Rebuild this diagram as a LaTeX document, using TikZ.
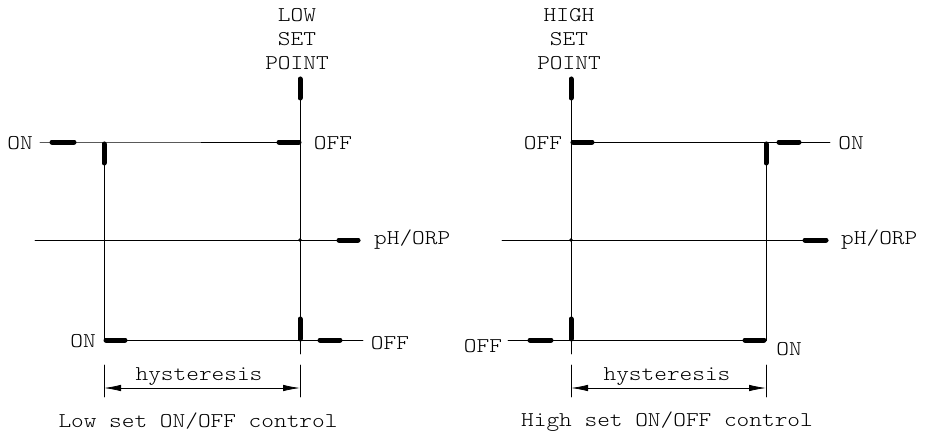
\documentclass[tikz,border=0pt]{standalone}
\usepackage{fontspec}
\newfontfamily\courfont{lmmonolt10-regular.otf}[FakeStretch=1.15]
\usetikzlibrary{arrows.meta}

\begin{document}
\begin{tikzpicture}[line cap=round,line join=round,x=1pt,y=-1pt,
	thin line/.style={line width=0.8pt},
	thick mark/.style={line width=5pt,line cap=round},
	dim line/.style={line width=0.8pt,{Latex[length=17pt,width=6.5pt]}-{Latex[length=17pt,width=6.5pt]}},
	lbl/.style={inner sep=0pt,anchor=base,font=\courfont\fontsize{21}{24}\selectfont}]
	\useasboundingbox (0,0) rectangle (925,431);

	%% Low set point
	\coordinate (lon) at (40,142);
	\coordinate (lhigh) at (104,142);
	\coordinate (llow) at (104,340);
	\coordinate (lsp) at (300,77);
	\coordinate (lspend) at (300,354);
	\coordinate (laxisa) at (35,240);
	\coordinate (laxisb) at (360,240);
	\coordinate (loff) at (363,340);
	\draw [thin line] (lon) -- (lhigh) -- (lsp |- lhigh);
	\draw [thin line] (lhigh) -- (llow) -- (loff);
	\draw [thin line] (lsp) -- (lspend);
	\draw [thin line] (laxisa) -- (laxisb);
	\draw [fill=black] (lsp |- laxisa) circle (1.5pt);
	\draw [thick mark] (52,142) -- (74,142);
	\draw [thick mark] (104,144) -- (104,163);
	\draw [thick mark] (279,142) -- (299,142);
	\draw [thick mark] (300,79) -- (300,98);
	\draw [thick mark] (339,240) -- (358,240);
	\draw [thick mark] (106,340) -- (125,340);
	\draw [thick mark] (300,319) -- (300,339);
	\draw [thick mark] (320,340) -- (340,340);
	% dimension
	\draw [thin line] (104,365) -- (104,397);
	\draw [thin line] (300,365) -- (300,397);
	\draw [dim line] (104,388) -- (300,388);
	% labels
	\node[lbl] (llowtext) at (297,21) {LOW};
	\node[lbl] (lsettext) at (297,45) {SET};
	\node[lbl] (lpointtext) at (297,69) {POINT};
	\node[lbl] (lontop) at (20,149) {ON};
	\node[lbl] (lofftop) at (333,149) {OFF};
	\node[lbl,anchor=base west] (lph) at (374,244) {pH/ORP};
	\node[lbl] (lonbot) at (83,347) {ON};
	\node[lbl] (loffbot) at (390,349) {OFF};
	\node[lbl] (lhys) at (199,380) {hysteresis};
	\node[lbl] (lcap) at (198,427) {Low set ON/OFF control};

	%% High set point
	\coordinate (hsp) at (571,77);
	\coordinate (hspend) at (571,354);
	\coordinate (hhigh) at (766,142);
	\coordinate (hlow) at (766,340);
	\coordinate (hon) at (830,142);
	\coordinate (haxisa) at (502,240);
	\coordinate (haxisb) at (828,240);
	\coordinate (hoff) at (508,340);
	\draw [thin line] (hsp |- hhigh) -- (hon);
	\draw [thin line] (hhigh) -- (hlow) -- (hoff);
	\draw [thin line] (hsp) -- (hspend);
	\draw [thin line] (haxisa) -- (haxisb);
	\draw [fill=black] (hsp |- haxisa) circle (1.5pt);
	\draw [thick mark] (573,142) -- (592,142);
	\draw [thick mark] (766,144) -- (766,163);
	\draw [thick mark] (779,142) -- (799,142);
	\draw [thick mark] (571,79) -- (571,98);
	\draw [thick mark] (805,240) -- (826,240);
	\draw [thick mark] (530,340) -- (551,340);
	\draw [thick mark] (571,319) -- (571,339);
	\draw [thick mark] (745,340) -- (764,340);
	% dimension
	\draw [thin line] (571,365) -- (571,397);
	\draw [thin line] (766,365) -- (766,397);
	\draw [dim line] (571,388) -- (766,388);
	% labels
	\node[lbl] (hhightext) at (569,21) {HIGH};
	\node[lbl] (hsettext) at (569,45) {SET};
	\node[lbl] (hpointtext) at (569,69) {POINT};
	\node[lbl] (hofftop) at (543,149) {OFF};
	\node[lbl] (hontop) at (851,149) {ON};
	\node[lbl,anchor=base west] (hph) at (841,244) {pH/ORP};
	\node[lbl] (hoffbot) at (483,352) {OFF};
	\node[lbl] (honbot) at (789,355) {ON};
	\node[lbl] (hhys) at (667,380) {hysteresis};
	\node[lbl] (hcap) at (667,426) {High set ON/OFF control};
\end{tikzpicture}
\end{document}
